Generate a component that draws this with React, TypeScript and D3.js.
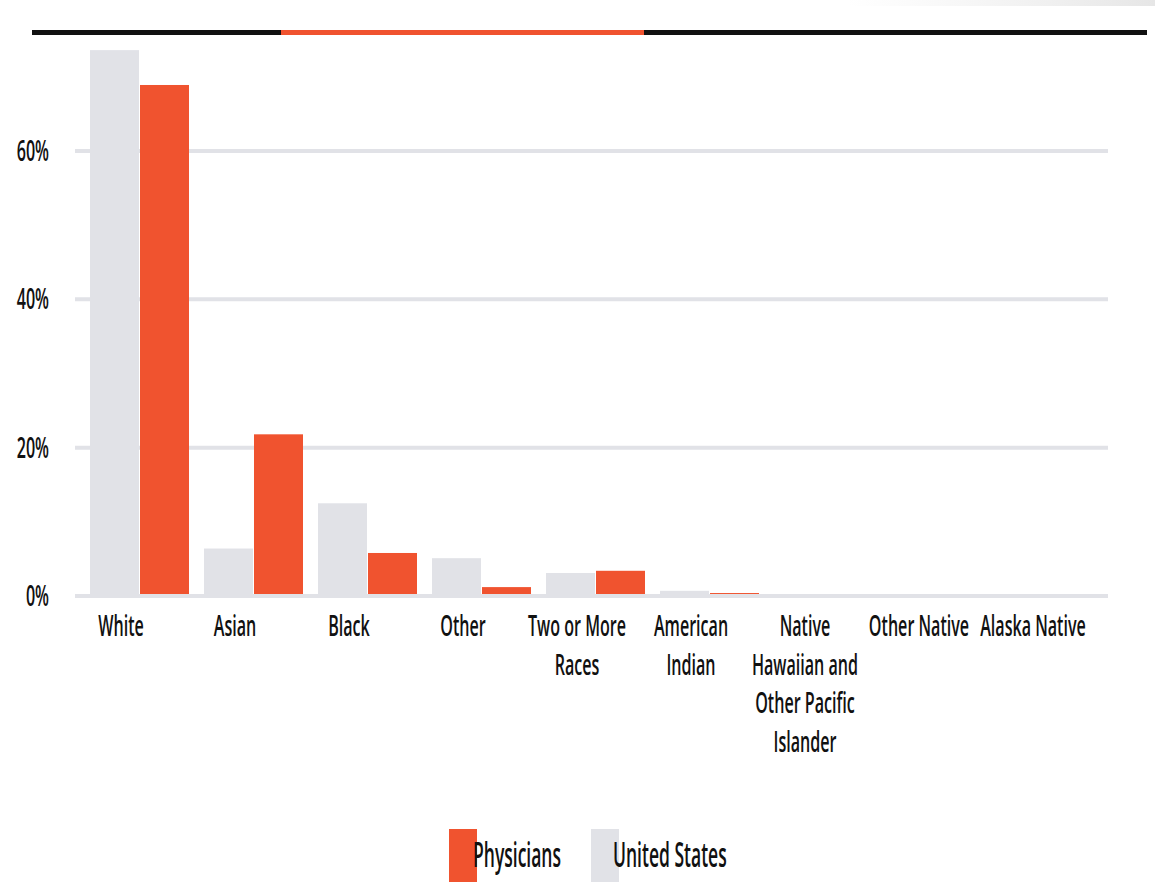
import React from "react";
import * as d3 from "d3";

const categories: string[][] = [
  ["White"],
  ["Asian"],
  ["Black"],
  ["Other"],
  ["Two or More", "Races"],
  ["American", "Indian"],
  ["Native", "Hawaiian and", "Other Pacific", "Islander"],
  ["Other Native"],
  ["Alaska Native"],
];
const usValues = [73.6, 6.4, 12.5, 5.1, 3.1, 0.7, 0.2, 0, 0];
const physValues = [68.9, 21.8, 5.8, 1.2, 3.4, 0.4, 0.1, 0, 0];
const seriesNames = ["United States", "Physicians"];
const yTicks = [0, 20, 40, 60];

const W = 1155;
const H = 882;
const ORANGE = "#f0532f";
const GREY = "#e1e2e7";
const TEXT = "#111";
const FONT = "'Open Sans', 'Noto Sans', sans-serif";

export default function App() {
  const keys = categories.map((c) => c.join(" "));
  const x0 = d3.scaleBand<string>().domain(keys).range([90, 1101]).paddingInner(15 / 114).paddingOuter(0);
  const x1 = d3.scaleBand<string>().domain(seriesNames).range([0, x0.bandwidth()]).paddingInner(0.02);
  const y = d3.scaleLinear().domain([0, 60]).range([596, 151]);
  const colors: Record<string, string> = { "United States": GREY, Physicians: ORANGE };
  const data = keys.map((k, i) => ({ key: k, lines: categories[i], vals: [usValues[i], physValues[i]] }));

  const sx = 0.555;

  return (
    <div style={{ position: "absolute", left: 0, top: 0, width: W, height: H, background: "#fff" }}>
      <svg width={W} height={H} style={{ display: "block" }}>
        <defs>
          <linearGradient id="topfade" x1="0" x2="1" y1="0" y2="0">
            <stop offset="0" stopColor="#ececec" stopOpacity={0} />
            <stop offset="1" stopColor="#e6e6e6" stopOpacity={1} />
          </linearGradient>
        </defs>
        <rect x={847} y={0} width={308} height={6} fill="url(#topfade)" />
        {/* top rule */}
        <rect x={32} y={30} width={1115} height={5} fill="#111" />
        <rect x={281} y={30} width={363} height={5} fill={ORANGE} />

        {/* gridlines (non-zero) */}
        {yTicks.filter((t) => t !== 0).map((t) => (
          <line key={"g" + t} x1={75} x2={1108} y1={y(t)} y2={y(t)} stroke={GREY} strokeWidth={4} />
        ))}

        {/* bars */}
        {data.map((d) => (
          <g key={d.key} transform={`translate(${x0(d.key)},0)`}>
            {seriesNames.map((s, j) => (
              <rect
                key={s}
                x={x1(s)}
                y={y(d.vals[j])}
                width={x1.bandwidth()}
                height={Math.max(0, y(0) - y(d.vals[j]))}
                fill={colors[s]}
              />
            ))}
          </g>
        ))}

        {/* baseline */}
        <line x1={75} x2={1108} y1={y(0)} y2={y(0)} stroke={GREY} strokeWidth={4} />

        {/* y tick labels */}
        {yTicks.map((t) => (
          <text
            key={"t" + t}
            transform={`translate(49,${y(t) + 10}) scale(${sx},1)`}
            textAnchor="end"
            fontFamily={FONT}
            fontWeight={600}
            fontSize={29}
            fill={TEXT}
          >
            {t + "%"}
          </text>
        ))}

        {/* x labels */}
        {data.map((d) =>
          d.lines.map((ln, li) => (
            <text
              key={d.key + li}
              transform={`translate(${(x0(d.key) as number) + 31},${636 + li * 38.5}) scale(${sx},1)`}
              textAnchor="middle"
              fontFamily={FONT}
              fontWeight={600}
              fontSize={29}
              fill={TEXT}
            >
              {ln}
            </text>
          ))
        )}

        {/* legend */}
        <rect x={449} y={829} width={28} height={60} fill={ORANGE} />
        <text transform={`translate(473,867) scale(0.515,1)`} fontFamily={FONT} fontWeight={600} fontSize={34} fill={TEXT}>
          Physicians
        </text>
        <rect x={591} y={829} width={28} height={60} fill={GREY} />
        <text transform={`translate(613,867) scale(0.515,1)`} fontFamily={FONT} fontWeight={600} fontSize={34} fill={TEXT}>
          United States
        </text>
      </svg>
    </div>
  );
}
